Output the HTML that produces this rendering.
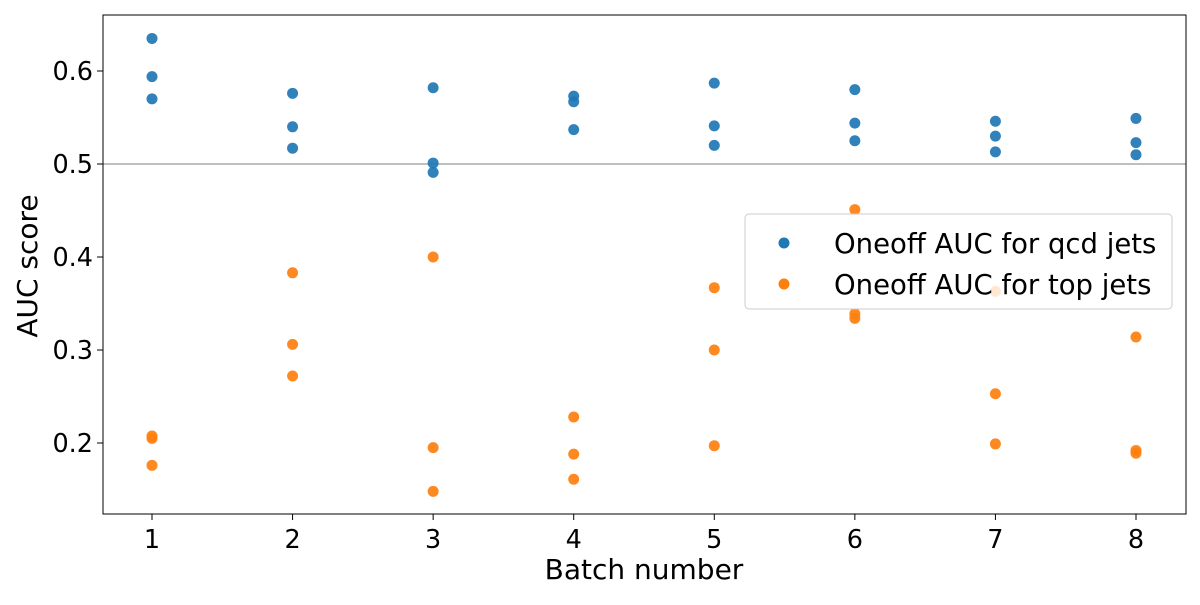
<!DOCTYPE html>
<html><head><meta charset="utf-8"><style>
body{margin:0;background:#fff;font-family:"Liberation Sans","DejaVu Sans",sans-serif}
</style></head><body>
<svg id="chart" width="1200" height="600" xmlns="http://www.w3.org/2000/svg" font-family="DejaVu Sans, Liberation Sans, sans-serif"></svg>
<script>
const batches=[1,2,3,4,5,6,7,8];
const qcdValues=[[0.635,0.594,0.570],[0.576,0.540,0.517],[0.582,0.501,0.491],[0.573,0.567,0.537],[0.587,0.541,0.520],[0.580,0.544,0.525],[0.546,0.530,0.513],[0.549,0.523,0.510]];
const topValues=[[0.2075,0.205,0.176],[0.383,0.306,0.272],[0.400,0.195,0.148],[0.228,0.188,0.161],[0.367,0.300,0.197],[0.451,0.339,0.334],[0.363,0.253,0.199],[0.314,0.192,0.189]];
const yTicks=[0.2,0.3,0.4,0.5,0.6];
const xTicks=[1,2,3,4,5,6,7,8];
const L=103,R=1186,T=15,B=514;
const xs=v=>152+(v-1)*140.57;
const ys=v=>164-(v-0.5)*930;
const svg=document.getElementById('chart');const NS='http://www.w3.org/2000/svg';
function el(t,a,p){const e=document.createElementNS(NS,t);for(const k in a)e.setAttribute(k,a[k]);(p||svg).appendChild(e);return e;}
let g=el('line',{x1:L,x2:R,y1:ys(0.5),y2:ys(0.5),stroke:'#aaa','stroke-width':1.5});


batches.forEach((b,i)=>{qcdValues[i].forEach(v=>{const c=el('circle',{cx:xs(b),cy:ys(v),r:5.5,fill:'#1f77b4','fill-opacity':0.92});

});});
batches.forEach((b,i)=>{topValues[i].forEach(v=>{const c=el('circle',{cx:xs(b),cy:ys(v),r:5.5,fill:'#ff7f0e','fill-opacity':0.92});

});});
let fr=el('rect',{x:L,y:T,width:R-L,height:B-T,fill:'none',stroke:'#000','stroke-width':1});


yTicks.forEach(t=>{el('line',{x1:L-6,x2:L,y1:ys(t),y2:ys(t),stroke:'#000'});
const tx=el('text',{x:L-10,y:ys(t)+9,'text-anchor':'end','font-size':25.5});tx.textContent=t.toFixed(1);

});
xTicks.forEach(t=>{el('line',{x1:xs(t),x2:xs(t),y1:B,y2:B+6,stroke:'#000'});
const tx=el('text',{x:xs(t),y:B+34,'text-anchor':'middle','font-size':25.5});tx.textContent=t;

});
let xl=el('text',{x:644,y:579,'text-anchor':'middle','font-size':28});xl.textContent='Batch number';


let yl=el('text',{x:37,y:266,'text-anchor':'middle','font-size':28,transform:'rotate(-90 37 266)'});yl.textContent='AUC score';


let lg=el('g',{});


el('rect',{x:745,y:214,width:427,height:95,rx:4,fill:'#fff','fill-opacity':0.8,stroke:'#ccc'},lg);
[['Oneoff AUC for qcd jets','#1f77b4',243],['Oneoff AUC for top jets','#ff7f0e',284]].forEach(([s,c,y])=>{
el('circle',{cx:784,cy:y,r:5.5,fill:c},lg);
const t=el('text',{x:834,y:y+10,'font-size':27.5},lg);t.textContent=s;

});
</script>
</body></html>
